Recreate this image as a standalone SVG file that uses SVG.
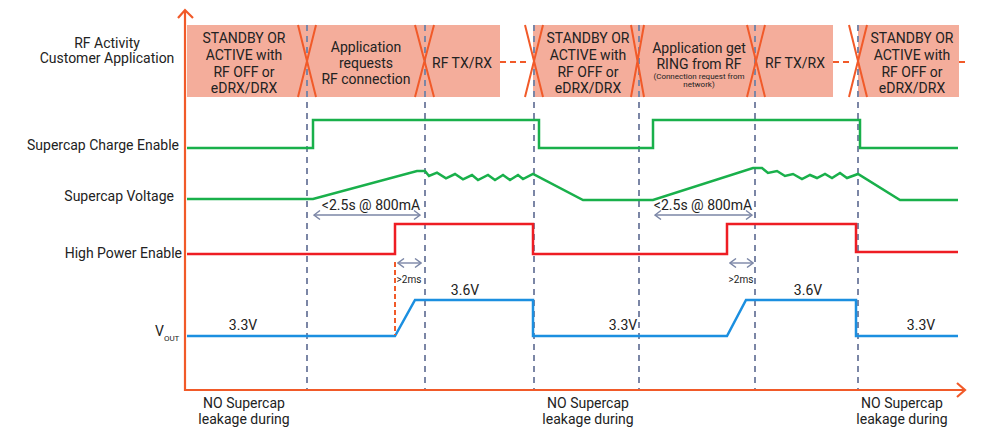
<svg xmlns="http://www.w3.org/2000/svg" width="981" height="431" viewBox="0 0 981 431">
<defs>
<marker id="ah" viewBox="0 0 10 10" refX="9" refY="5" markerWidth="10" markerHeight="10" markerUnits="userSpaceOnUse" orient="auto-start-reverse"><path d="M3,0.5 L9,5 L3,9.5" fill="none" stroke="#7b86a6" stroke-width="1.4"/></marker>
</defs>
<style>
text{font-family:Roboto,"Liberation Sans",sans-serif;fill:#222;font-size:14px}
.mid{text-anchor:middle}
.end{text-anchor:end}
.band{fill:#f4ad9b}
.x{stroke:#f15a29;stroke-width:2;fill:none}
.hdash{stroke:#f15a29;stroke-width:2;stroke-dasharray:6 4;fill:none}
.grid{stroke:#7b86a6;stroke-width:2;stroke-dasharray:6 5;fill:none}
.axis{stroke:#f15a29;stroke-width:2.2;fill:none}
.sig{fill:none;stroke-width:2.5;stroke-linejoin:miter}
.green{stroke:#19b04b}
.red{stroke:#ee1d23}
.blue{stroke:#1b8fe0}
.dim{stroke:#7b86a6;stroke-width:1.4;fill:none;marker-start:url(#ah);marker-end:url(#ah)}
.small{font-size:10px}
.tiny{font-size:8px}
</style>

<g id="band">
<rect class="band" x="187" y="25" width="313" height="72"/>
<rect class="band" x="533" y="25" width="300" height="72"/>
<rect class="band" x="858" y="25" width="101" height="72"/>
<path class="hdash" d="M500,62 H526 M833,62 H849 M959,62 H967"/>
</g>

<g id="grid">
<path class="grid" d="M307,25 V390 M425,25 V390 M534,25 V390 M639,25 V390 M755,25 V390 M858,25 V390"/>
</g>

<g id="transitions">
<path class="x" d="M298,25 L316,97 M316,25 L298,97"/>
<path class="x" d="M415,25 L434,97 M434,25 L415,97"/>
<path class="x" d="M525,25 L543,97 M543,25 L525,97"/>
<path class="x" d="M631,25 L644,97 M644,25 L631,97"/>
<path class="x" d="M747,25 L765,97 M765,25 L747,97"/>
<path class="x" d="M849,25 L867,97 M867,25 L849,97"/>
</g>

<g id="state-standby-1">
<text class="mid" x="244" y="43">STANDBY OR</text>
<text class="mid" x="244" y="60">ACTIVE with</text>
<text class="mid" x="244" y="77">RF OFF or</text>
<text class="mid" x="244" y="93">eDRX/DRX</text>
</g>
<g id="state-app-request">
<text class="mid" x="366" y="52">Application</text>
<text class="mid" x="366" y="68">requests</text>
<text class="mid" x="366" y="84">RF connection</text>
</g>
<g id="state-rf-1">
<text class="mid" x="462" y="68">RF TX/RX</text>
</g>
<g id="state-standby-2">
<text class="mid" x="588" y="43">STANDBY OR</text>
<text class="mid" x="588" y="60">ACTIVE with</text>
<text class="mid" x="588" y="77">RF OFF or</text>
<text class="mid" x="588" y="93">eDRX/DRX</text>
</g>
<g id="state-app-ring">
<text class="mid" x="699" y="53">Application get</text>
<text class="mid" x="699" y="69">RING from RF</text>
<text class="mid tiny" x="699" y="79">(Connection request from</text>
<text class="mid tiny" x="699" y="87">network)</text>
</g>
<g id="state-rf-2">
<text class="mid" x="795" y="68">RF TX/RX</text>
</g>
<g id="state-standby-3">
<text class="mid" x="912" y="43">STANDBY OR</text>
<text class="mid" x="912" y="60">ACTIVE with</text>
<text class="mid" x="912" y="77">RF OFF or</text>
<text class="mid" x="912" y="93">eDRX/DRX</text>
</g>

<g id="row-labels">
<text class="mid" x="107" y="48">RF Activity</text>
<text class="mid" x="107" y="63">Customer Application</text>
<text class="end" x="179" y="150">Supercap Charge Enable</text>
<text class="end" x="174" y="201">Supercap Voltage</text>
<text class="end" x="182" y="258">High Power Enable</text>
<text x="155" y="336">V<tspan font-size="8" dy="5">OUT</tspan></text>
</g>

<g id="signals">
<path class="sig green" d="M187,148 H313 V120 H539 V148 H653 V120 H860 V148 H958"/>
<path class="sig green" d="M187,199 H313 L417,171 H425 L429,176 L437,172.7 L446,178.3 L455,174 L463,179.3 L472,175 L478,180 L488,175 L495,180 L503,175 L510,180 L518,175 L523,179 L533,174 L583,200 H653 L753,168 H762 L768,173 L777,171 L785,176 L793,174 L802,179 L810,175 L817,178 L825,174 L832,178 L840,173 L847,178 L858,174 L900,200 H958"/>
<path class="sig red" d="M187,254 H395 V224 H533 V254 H727 V224 H856 V252 H958"/>
<path class="sig blue" d="M187,336 H395 L415,300 H533 V336 H727 L746,300 H856 V336 H958"/>
<path d="M395,262 V335" stroke="#f15a29" stroke-width="2" stroke-dasharray="5 3" fill="none"/>
</g>

<g id="annotations">
<line class="dim" x1="314" y1="215" x2="420" y2="215"/>
<line class="dim" x1="655" y1="215" x2="752" y2="215"/>
<line class="dim" x1="398" y1="263" x2="421" y2="263"/>
<line class="dim" x1="730" y1="263" x2="753" y2="263"/>
<text class="mid" x="371" y="210">&lt;2.5s @ 800mA</text>
<text class="mid" x="703" y="210">&lt;2.5s @ 800mA</text>
<text class="mid small" x="409" y="283">&gt;2ms</text>
<text class="mid small" x="741" y="283">&gt;2ms</text>
<text class="mid" x="243" y="330">3.3V</text>
<text class="mid" x="465" y="295">3.6V</text>
<text class="mid" x="623" y="330">3.3V</text>
<text class="mid" x="808" y="295">3.6V</text>
<text class="mid" x="921" y="330">3.3V</text>
</g>

<g id="axes">
<path class="axis" d="M185,391 V10 M178,18 L185,10 L193,18"/>
<path class="axis" d="M184,390 H965 M957,383 L965,390 L957,397"/>
</g>

<g id="footnotes">
<text class="mid" x="244" y="408">NO Supercap</text>
<text class="mid" x="244" y="424">leakage during</text>
<text class="mid" x="588" y="408">NO Supercap</text>
<text class="mid" x="588" y="424">leakage during</text>
<text class="mid" x="902" y="408">NO Supercap</text>
<text class="mid" x="902" y="424">leakage during</text>
</g>
</svg>
